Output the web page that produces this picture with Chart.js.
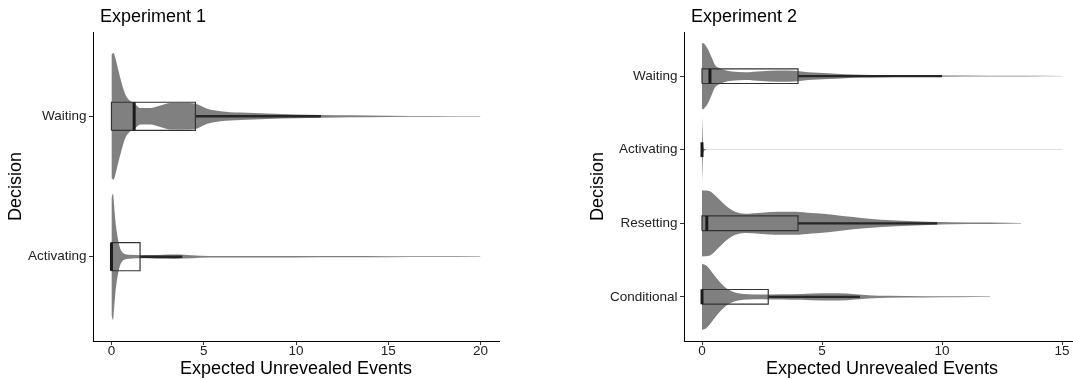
<!DOCTYPE html>
<html lang="en">
<head>
<meta charset="UTF-8" />
<title>Expected Unrevealed Events by Decision</title>
<script src="https://cdn.jsdelivr.net/npm/chart.js"></script>
<style>
    html, body { margin: 0; padding: 0; background: #fff; overflow: hidden; }
    .panel { position: absolute; top: 0; height: 379px; }
    #p1 { left: 0; width: 536px; }
    #p2 { left: 536px; width: 550px; }
</style>
</head>
<body>

<div class="panel" id="p1"><canvas id="chart1"></canvas></div>
<div class="panel" id="p2"><canvas id="chart2"></canvas></div>

<script>
// ---- Experiment 1 (categories bottom -> top) ----
const exp1Categories = ['Activating', 'Waiting'];
const exp1XTicks = [0, 5, 10, 15, 20];
const exp1Q1 = [0, 0];
const exp1Median = [0, 1.23];
const exp1Q3 = [1.55, 4.55];
const exp1WhiskerHi = [3.84, 11.35];

// violin outlines: x values and relative density (1 = full width)
const exp1ActivatingX = [0, 0.09, 0.12, 0.21, 0.3, 0.4, 0.49, 0.67, 1.0, 1.6, 2.2, 2.8, 3.4, 3.9, 4.8, 6, 8, 10, 12.5, 15, 17.5, 20];
const exp1ActivatingD = [0.93, 1.0, 0.9, 0.58, 0.37, 0.21, 0.12, 0.053, 0.032, 0.025, 0.028, 0.033, 0.035, 0.03, 0.016, 0.013, 0.012, 0.012, 0.01, 0.008, 0.006, 0.004];
const exp1WaitingX = [0, 0.12, 0.21, 0.39, 0.58, 0.76, 0.94, 1.21, 1.57, 2.11, 2.65, 3.2, 3.92, 4.55, 5.19, 5.91, 7.0, 8.44, 10, 11.4, 13, 15, 17.5, 20];
const exp1WaitingD = [0.98, 1.0, 0.92, 0.71, 0.5, 0.34, 0.26, 0.21, 0.13, 0.13, 0.17, 0.21, 0.21, 0.2, 0.12, 0.08, 0.058, 0.042, 0.03, 0.022, 0.015, 0.01, 0.006, 0.004];

// ---- Experiment 2 (categories bottom -> top) ----
const exp2Categories = ['Conditional', 'Resetting', 'Activating', 'Waiting'];
const exp2XTicks = [0, 5, 10, 15];
const exp2Q1 = [0, 0, 0, 0];
const exp2Median = [0, 0.2, 0, 0.33];
const exp2Q3 = [2.76, 4.0, 0, 4.0];
const exp2WhiskerHi = [6.58, 9.8, 0, 10.0];

const exp2ConditionalX = [0, 0.19, 0.4, 0.61, 0.82, 1.03, 1.24, 1.51, 1.93, 2.49, 3.32, 4.15, 4.99, 5.68, 6.38, 6.93, 7.76, 9.3, 10.6, 12];
const exp2ConditionalD = [1.0, 0.94, 0.76, 0.56, 0.39, 0.25, 0.17, 0.11, 0.08, 0.07, 0.08, 0.09, 0.11, 0.11, 0.08, 0.05, 0.03, 0.02, 0.015, 0.008];
const exp2ResettingX = [0, 0.33, 0.54, 0.82, 1.1, 1.38, 1.79, 2.49, 3.18, 3.88, 4.57, 5.26, 5.96, 6.65, 7.49, 8.32, 9.43, 10.4, 12, 13.3];
const exp2ResettingD = [1.0, 0.97, 0.85, 0.65, 0.47, 0.35, 0.29, 0.32, 0.35, 0.35, 0.31, 0.27, 0.21, 0.16, 0.11, 0.08, 0.05, 0.03, 0.02, 0.01];
const exp2ActivatingX = [0, 0.02, 0.05, 0.1, 0.3, 1, 3, 6, 9, 12, 15];
const exp2ActivatingD = [1.0, 0.6, 0.1, 0.02, 0.004, 0.003, 0.003, 0.003, 0.003, 0.003, 0.003];
const exp2WaitingX = [0, 0.05, 0.125, 0.26, 0.4, 0.54, 0.68, 0.89, 1.24, 1.79, 2.49, 3.18, 3.88, 4.43, 5.26, 5.96, 6.65, 7.49, 8.5, 10, 12, 13.5, 15];
const exp2WaitingD = [0.98, 1.0, 0.95, 0.8, 0.57, 0.34, 0.26, 0.19, 0.14, 0.12, 0.15, 0.17, 0.16, 0.12, 0.09, 0.06, 0.04, 0.03, 0.025, 0.02, 0.013, 0.009, 0.006];

const VIOLIN_HALF = 0.45;   // half of violin width, in category units
const BOX_HALF = 0.1;       // half of box height
const FONT = "'Liberation Sans', Arial, Helvetica, sans-serif";

Chart.defaults.font.family = FONT;
Chart.defaults.animation = false;

// shifts the chart title a little to the right of the panel edge
const titleNudge = {
    id: 'titleNudge',
    afterLayout(chart) {
        if (chart.titleBlock) chart.titleBlock.left += 7;
    }
};

function buildDatasets(q1, med, q3, whisk, violinX, violinD) {
    const ds = [];
    violinX.forEach((xs, i) => {
        const pos = i + 1;
        const d = violinD[i];
        const upperIdx = ds.length;
        ds.push({
            data: xs.map((x, k) => ({ x: x, y: pos + d[k] * VIOLIN_HALF })),
            borderWidth: 0, pointRadius: 0, fill: false,
            cubicInterpolationMode: 'monotone', order: 3
        });
        ds.push({
            data: xs.map((x, k) => ({ x: x, y: pos - d[k] * VIOLIN_HALF })),
            borderWidth: 0, pointRadius: 0, fill: upperIdx,
            backgroundColor: '#808080',
            cubicInterpolationMode: 'monotone', order: 3
        });
        // upper whisker
        ds.push({
            data: [{ x: q3[i], y: pos }, { x: whisk[i], y: pos }],
            borderColor: '#262626', borderWidth: 2.3, pointRadius: 0, order: 2
        });
        // box outline
        ds.push({
            data: [
                { x: q1[i], y: pos - BOX_HALF }, { x: q3[i], y: pos - BOX_HALF },
                { x: q3[i], y: pos + BOX_HALF }, { x: q1[i], y: pos + BOX_HALF },
                { x: q1[i], y: pos - BOX_HALF }
            ],
            borderColor: '#333333', borderWidth: 1.2, pointRadius: 0, order: 1
        });
        // median
        ds.push({
            data: [{ x: med[i], y: pos - BOX_HALF }, { x: med[i], y: pos + BOX_HALF }],
            borderColor: '#1a1a1a', borderWidth: 3, pointRadius: 0, order: 0
        });
    });
    return ds;
}

function makeChart(canvasId, cfg) {
    const ctx = document.getElementById(canvasId).getContext('2d');
    return new Chart(ctx, {
        type: 'scatter',
        data: { datasets: cfg.datasets },
        plugins: [titleNudge],
        options: {
            responsive: true,
            maintainAspectRatio: false,
            events: [],
            showLine: true,
            layout: { padding: cfg.padding },
            plugins: {
                legend: { display: false },
                tooltip: { enabled: false },
                title: {
                    display: true, text: cfg.title, align: 'start', fullSize: false,
                    color: '#000', font: { size: 18, weight: 'normal', lineHeight: 1.2 },
                    padding: { top: 6, bottom: 4.4 }
                }
            },
            scales: {
                x: {
                    type: 'linear', min: cfg.xMin, max: cfg.xMax,
                    afterBuildTicks: s => { s.ticks = cfg.xTicks.map(v => ({ value: v })); },
                    afterFit: s => { s.height = 38; },
                    ticks: { color: '#222', font: { size: 13.5, lineHeight: 1 }, padding: 0, maxRotation: 0 },
                    grid: { display: true, drawOnChartArea: false, tickLength: 4, color: '#333' },
                    border: { display: true, color: '#000', width: 1 },
                    title: {
                        display: true, text: 'Expected Unrevealed Events', color: '#000',
                        font: { size: 18, lineHeight: 1.1 }, padding: { top: 0, bottom: 0 }
                    }
                },
                y: {
                    type: 'linear', min: 0.4, max: cfg.categories.length + 0.6,
                    afterBuildTicks: s => { s.ticks = cfg.categories.map((c, i) => ({ value: i + 1 })); },
                    afterFit: s => { s.width = cfg.yWidth; },
                    ticks: {
                        color: '#222', font: { size: 13.5 }, padding: 2.5,
                        callback: v => cfg.categories[Math.round(v) - 1]
                    },
                    grid: { display: true, drawOnChartArea: false, tickLength: 4, color: '#333' },
                    border: { display: true, color: '#000', width: 1 },
                    title: {
                        display: true, text: 'Decision', color: '#000',
                        font: { size: 18, lineHeight: 1.1 }, padding: { top: 0, bottom: 0 }
                    }
                }
            }
        }
    });
}

makeChart('chart1', {
    title: 'Experiment 1',
    categories: exp1Categories,
    xTicks: exp1XTicks,
    xMin: -1, xMax: 21,
    yWidth: 87,
    padding: { left: 6, right: 37, top: 0, bottom: 0 },
    datasets: buildDatasets(exp1Q1, exp1Median, exp1Q3, exp1WhiskerHi,
        [exp1ActivatingX, exp1WaitingX], [exp1ActivatingD, exp1WaitingD])
});

makeChart('chart2', {
    title: 'Experiment 2',
    categories: exp2Categories,
    xTicks: exp2XTicks,
    xMin: -0.75, xMax: 15.75,
    yWidth: 96,
    padding: { left: 52, right: 6, top: 0, bottom: 0 },
    datasets: buildDatasets(exp2Q1, exp2Median, exp2Q3, exp2WhiskerHi,
        [exp2ConditionalX, exp2ResettingX, exp2ActivatingX, exp2WaitingX],
        [exp2ConditionalD, exp2ResettingD, exp2ActivatingD, exp2WaitingD])
});
</script>
</body>
</html>
